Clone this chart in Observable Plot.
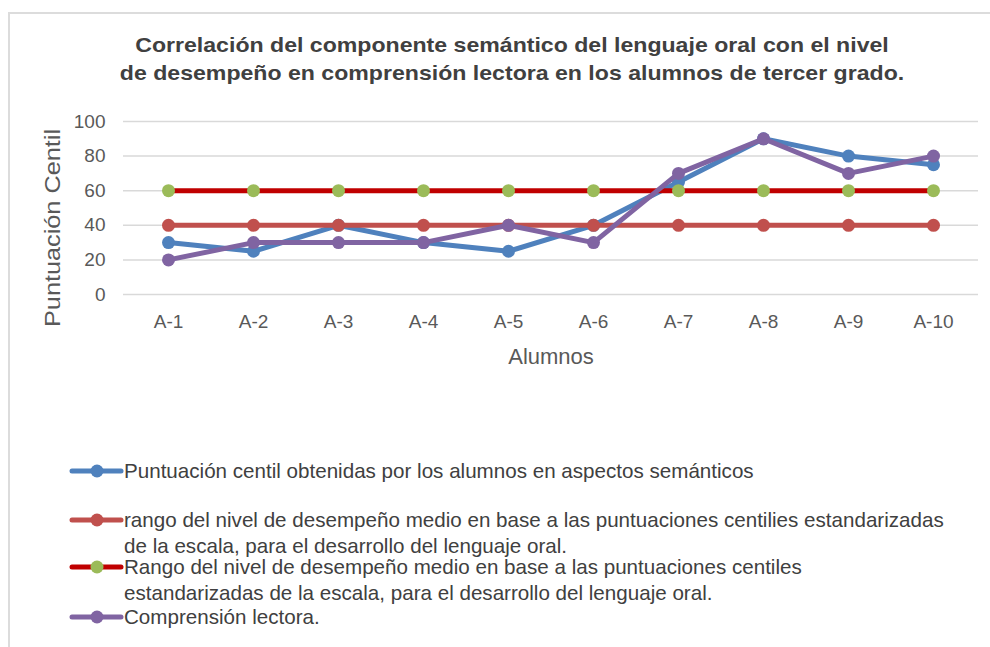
<!DOCTYPE html>
<html>
<head>
<meta charset="utf-8">
<script src="https://cdn.jsdelivr.net/npm/d3@7"></script>
<script src="https://cdn.jsdelivr.net/npm/@observablehq/plot@0.6"></script>
<style>
  html, body { margin: 0; padding: 0; background: #fff; overflow: hidden; }
  body { width: 990px; height: 647px; position: relative; font-family: "Liberation Sans", Arial, sans-serif; }
  #frame { position: absolute; left: 8px; top: 12px; width: 1000px; height: 700px; border-top: 2px solid #dcdcdc; border-left: 2px solid #dcdcdc; }
  #chart { position: absolute; left: 0; top: 0; }
  #title { position: absolute; left: 64px; width: 896px; top: 31px; text-align: center; font-weight: bold; font-size: 21px; line-height: 28px; color: #404040; transform: scaleX(1.1); transform-origin: 448px 0; white-space: nowrap; }
  .leg { position: absolute; left: 68px; font-size: 20.6px; line-height: 26px; color: #404040; }
  .leg svg { position: absolute; left: 0; top: 3px; }
  .leg span { display: block; margin-left: 56px; white-space: nowrap; }
</style>
</head>
<body>
<div id="frame"></div>
<div id="chart"></div>
<div id="title">Correlación del componente semántico del lenguaje oral con el nivel<br>de desempeño en comprensión lectora en los alumnos de tercer grado.</div>
<div id="legend"></div>
<script>
const alumnos = ["A-1", "A-2", "A-3", "A-4", "A-5", "A-6", "A-7", "A-8", "A-9", "A-10"];
const semantico = [30, 25, 40, 30, 25, 40, 65, 90, 80, 75];
const rangoMedio40 = [40, 40, 40, 40, 40, 40, 40, 40, 40, 40];
const rangoMedio60 = [60, 60, 60, 60, 60, 60, 60, 60, 60, 60];
const comprension = [20, 30, 30, 30, 40, 30, 70, 90, 70, 80];
const yTicks = [0, 20, 40, 60, 80, 100];
const yTitle = "Puntuación Centil";
const xTitle = "Alumnos";
const seriesNames = [
  "Puntuación centil obtenidas por los alumnos en aspectos semánticos",
  "rango del nivel de desempeño medio en base a las puntuaciones centilies estandarizadas<br>de la escala, para el desarrollo del lenguaje oral.",
  "Rango del nivel de desempeño medio en base a las puntuaciones centiles<br>estandarizadas de la escala, para el desarrollo del lenguaje oral.",
  "Comprensión lectora."
];
const lineColors = ["#4F81BD", "#C0504D", "#C00000", "#8064A2"];
const dotColors = ["#4F81BD", "#C0504D", "#9BBB59", "#8064A2"];
const seriesValues = [semantico, rangoMedio40, rangoMedio60, comprension];

const tables = seriesValues.map((vals, s) => alumnos.map((a, i) => ({alumno: a, value: vals[i], s})));

const marks = [
  Plot.gridY(yTicks, {stroke: "#d9d9d9", strokeOpacity: 1, strokeWidth: 1.5})
];
tables.forEach((t, s) => {
  marks.push(Plot.line(t, {x: "alumno", y: "value", stroke: lineColors[s], strokeWidth: 5, strokeLinejoin: "round"}));
  marks.push(Plot.dot(t, {x: "alumno", y: "value", r: 6.5, fill: dotColors[s], stroke: "none"}));
});
marks.push(Plot.text([xTitle], {frameAnchor: "bottom", dy: 62, fontSize: 22, fill: "#595959", lineAnchor: "middle"}));
marks.push(Plot.text([yTitle], {frameAnchor: "left", dx: -71, dy: 20, rotate: -90, fontSize: 22, fill: "#595959", textAnchor: "middle", lineAnchor: "middle"}));

const chart = Plot.plot({
  width: 990,
  height: 370,
  marginLeft: 123,
  marginRight: 12,
  marginTop: 121,
  marginBottom: 76,
  style: {fontFamily: "'Liberation Sans', Arial, sans-serif", color: "#595959", background: "transparent"},
  x: {type: "point", domain: alumnos, padding: 0.5, label: null},
  y: {domain: [0, 100], ticks: yTicks, label: null},
  marks: [
    ...marks,
    Plot.axisY(yTicks, {tickSize: 0, tickPadding: 18, fontSize: 19, label: null, fill: "#595959"}),
    Plot.axisX(alumnos, {tickSize: 0, tickPadding: 20, fontSize: 19, label: null, fill: "#595959"})
  ]
});
d3.select(chart).selectAll("text").filter(function () { return this.textContent === yTitle; })
  .attr("textLength", 198).attr("lengthAdjust", "spacingAndGlyphs");
document.getElementById("chart").appendChild(chart);

const legendTops = [458, 507, 554, 604];
const legend = document.getElementById("legend");
seriesNames.forEach((name, s) => {
  const div = document.createElement("div");
  div.className = "leg";
  div.style.top = legendTops[s] + "px";
  div.innerHTML = `<svg width="56" height="20"><line x1="4" x2="53" y1="10" y2="10" stroke="${lineColors[s]}" stroke-width="5" stroke-linecap="round"/><circle cx="29" cy="10" r="6.5" fill="${dotColors[s]}"/></svg><span>${name}</span>`;
  legend.appendChild(div);
});
</script>
</body>
</html>
